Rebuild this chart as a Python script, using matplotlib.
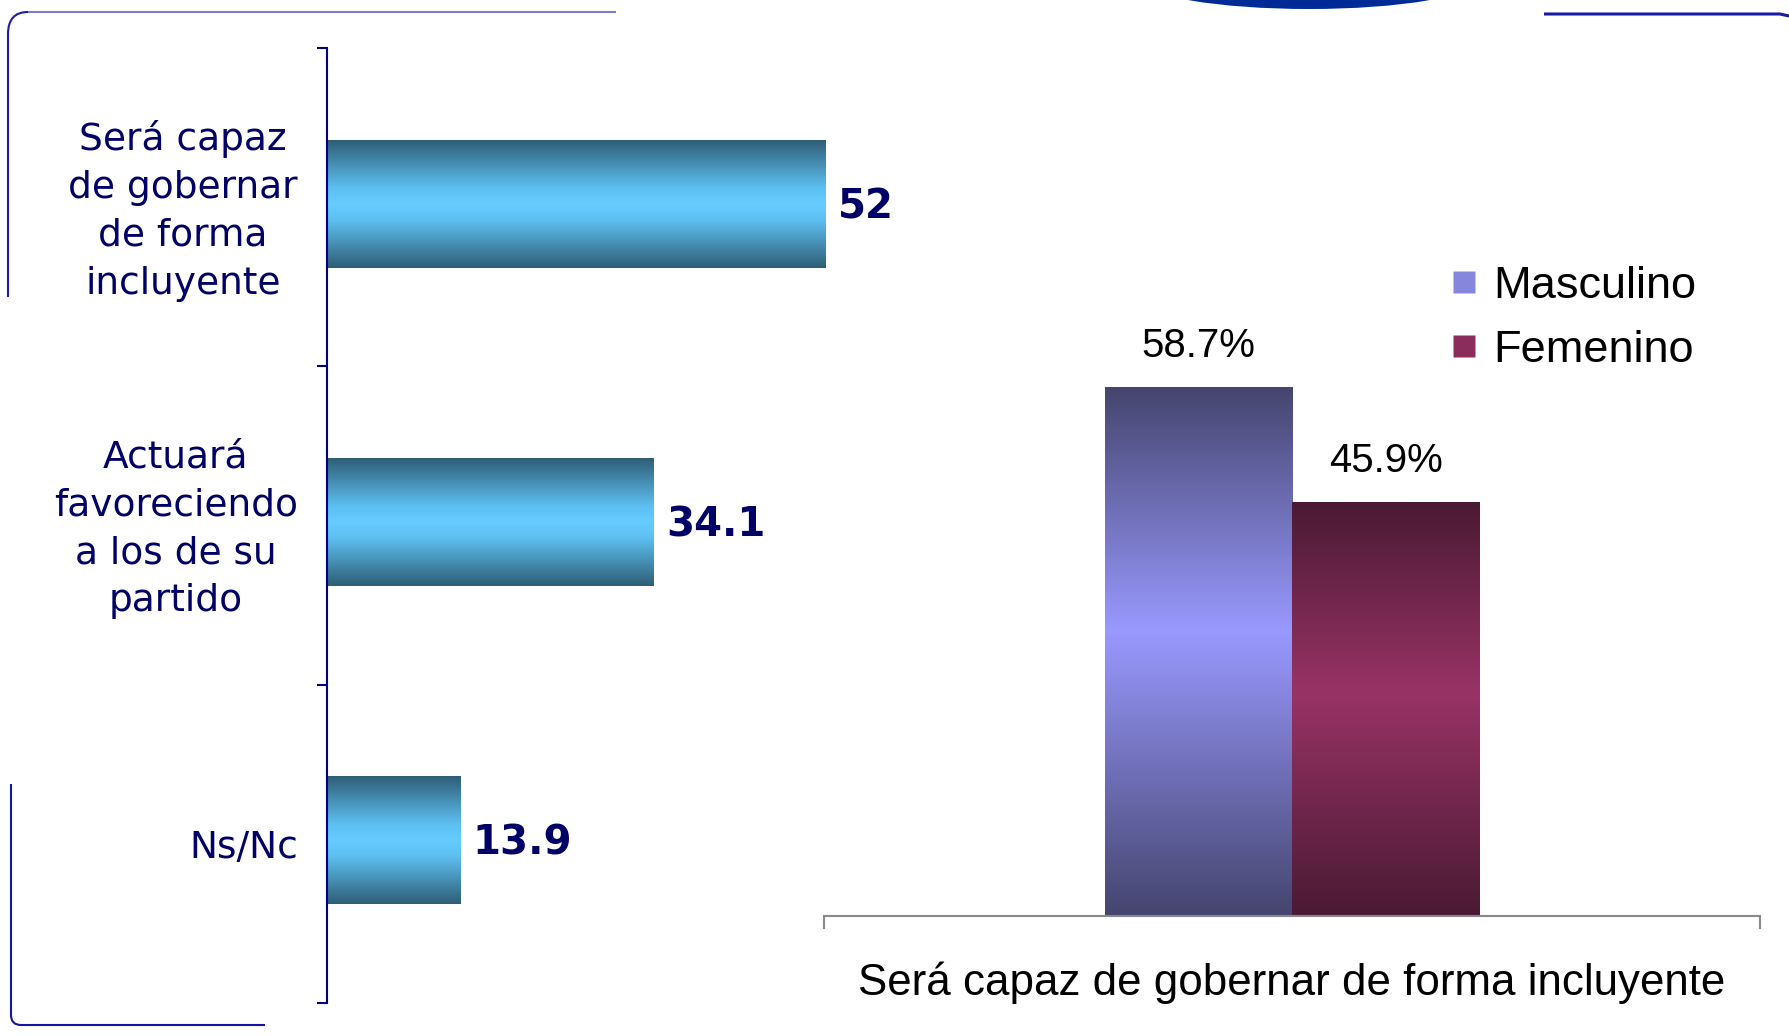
import matplotlib.pyplot as plt
import numpy as np
from matplotlib.colors import LinearSegmentedColormap
from matplotlib.lines import Line2D
from matplotlib.patches import Ellipse, PathPatch
from matplotlib.path import Path
from matplotlib.transforms import ScaledTranslation

W, H = 1789, 1036

# left chart: opinion on the candidate
respuestas = ["Será capaz\nde gobernar\nde forma\nincluyente",
              "Actuará\nfavoreciendo\na los de su\npartido",
              "Ns/Nc"]
porcentajes = [52, 34.1, 13.9]

# right chart: "será capaz..." by sex
sexo = ["Masculino", "Femenino"]
incluyente_sexo = [58.7, 45.9]
categoria = "Será capaz de gobernar de forma incluyente"

NAVY = "#000066"
fig = plt.figure(figsize=(W / 100, H / 100), dpi=100)


def fx(px):
    return px / W


def fy(py):
    return 1 - py / H


def shade(ax, bar, stops):
    '''paint a bar with a vertical gradient, hide the flat patch'''
    cmap = LinearSegmentedColormap.from_list("", stops)
    g = np.linspace(0, 1, 256)[:, None]
    x, y, w, h = bar.get_x(), bar.get_y(), bar.get_width(), bar.get_height()
    ax.imshow(g, cmap=cmap, extent=(x, x + w, y, y + h), aspect="auto",
              origin="lower", interpolation="bilinear", zorder=2)
    bar.set_visible(False)


# ---- left chart ----
ax1 = fig.add_axes([fx(327), fy(1003), fx(575), (1003 - 48) / H])
ax1.set_zorder(2)
ax1.patch.set_visible(False)
pos = np.arange(len(respuestas))
bars = ax1.barh(pos - 0.01, porcentajes, height=0.4)
teal = [(0, "#2e5e76"), (0.38, "#5ec0f2"), (0.5, "#66ccff"),
        (0.62, "#5ec0f2"), (1, "#2e5e76")]
for b in bars:
    shade(ax1, b, teal)
for p, v in zip(pos, porcentajes):
    ax1.annotate(f"{v:g}", (v, p), xytext=(9, 0), textcoords="offset points",
                 ha="left", va="center", fontsize=29, fontweight="bold",
                 color=NAVY, annotation_clip=False)
ax1.set_xlim(0, 60)
ax1.set_ylim(2.5, -0.5)
for s in ["top", "right", "bottom"]:
    ax1.spines[s].set_visible(False)
ax1.spines["left"].set_color("#000080")
ax1.spines["left"].set_linewidth(1.5)
ax1.set_xticks([])
ax1.set_yticks(pos, respuestas)
ax1.set_yticks([-0.5, 0.5, 1.5, 2.5], minor=True)
ax1.tick_params(axis="y", which="major", length=0, pad=21, labelsize=27,
                labelcolor=NAVY)
ax1.tick_params(axis="y", which="minor", length=7, width=1.5,
                color="#000080", direction="out")
lift = ScaledTranslation(0, 6 / 100, fig.dpi_scale_trans)
for lab in ax1.get_yticklabels():
    lab.set_multialignment("center")
    lab.set_linespacing(1.42)
    if "\n" in lab.get_text():
        lab.set_transform(lab.get_transform() + lift)

# ---- right chart ----
ax2 = fig.add_axes([fx(824), fy(916), fx(936), 855 / H])
ax2.patch.set_visible(False)
xs = np.array([-0.1, 0.1])
bars2 = ax2.bar(xs, incluyente_sexo, width=0.2)
grad = [[(0, "#45456f"), (0.54, "#9999ff"), (1, "#45456f")],
        [(0, "#4a1a34"), (0.54, "#993366"), (1, "#4a1a34")]]
for b, g in zip(bars2, grad):
    shade(ax2, b, g)
for x, v in zip(xs, incluyente_sexo):
    ax2.annotate(f"{v}%", (x, v), xytext=(0, 30), textcoords="offset points",
                 ha="center", va="center", fontsize=29,
                 family="Liberation Sans")
ax2.set_xlim(-0.5, 0.5)
ax2.set_ylim(0, 95)
for s in ["top", "right", "left"]:
    ax2.spines[s].set_visible(False)
ax2.spines["bottom"].set_color("#888888")
ax2.spines["bottom"].set_linewidth(1.5)
ax2.set_yticks([])
ax2.set_xticks([-0.5, 0.5], ["", ""])
ax2.tick_params(axis="x", length=9, width=1.5, color="#888888",
                direction="out")
ax2.text(0, -67 / 855, categoria, transform=ax2.get_xaxis_transform(),
         ha="center", va="center", fontsize=31.6, family="Liberation Sans")

handles = [Line2D([], [], ls="", marker="s", markersize=16,
                  markerfacecolor=c, markeredgecolor="none")
           for c in ["#8686dc", "#8a2c5c"]]
fig.legend(handles, sexo, loc="upper left",
           bbox_to_anchor=(fx(1441), fy(266)), frameon=False,
           prop={"family": "Liberation Sans", "size": 32.5},
           handletextpad=0.15, labelspacing=0.5, borderpad=0,
           borderaxespad=0, handlelength=1.0)

# ---- slide decorations ----
def deco(verts, codes, color, lw):
    verts = [(fx(a), fy(b)) for a, b in verts]
    fig.add_artist(PathPatch(Path(verts, codes), fill=False, edgecolor=color,
                             lw=lw, transform=fig.transFigure))


M, L, C = Path.MOVETO, Path.LINETO, Path.CURVE3
deco([(616, 12), (28, 12)], [M, L], "#7b7bd0", 1.5)
deco([(28, 12), (8, 12), (8, 34), (8, 297)], [M, C, C, L], "#1c1ca8", 1.5)
deco([(11, 784), (11, 1015), (11, 1025), (21, 1025), (265, 1025)],
     [M, L, C, C, L], "#1414a0", 1.5)
deco([(1544, 14), (1780, 14), (1789, 16)], [M, L, L], "#1a1aa0", 2.2)
fig.add_artist(Ellipse((fx(1309), fy(-20)), fx(334), 58 / H,
                       facecolor="#002a96", edgecolor="none",
                       transform=fig.transFigure))

fig.savefig("out.png", dpi=100)
